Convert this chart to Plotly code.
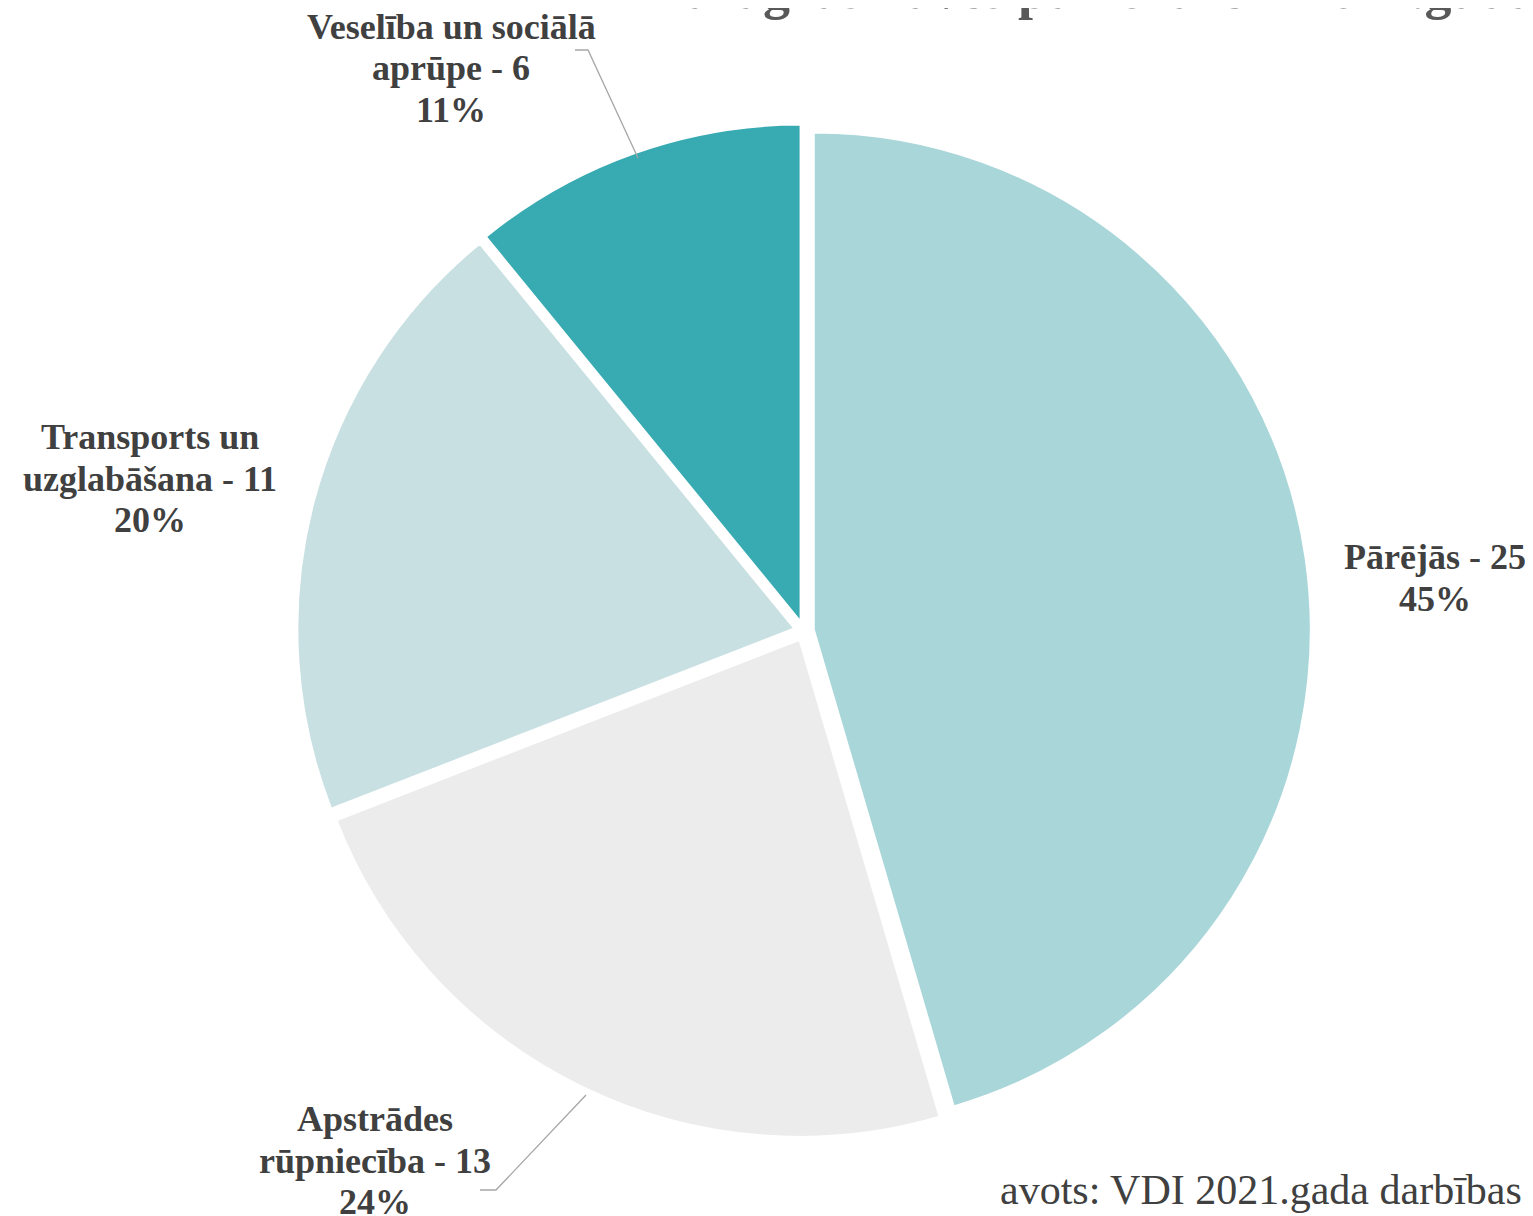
import plotly.graph_objects as go

categories = ["Pārējās", "Apstrādes rūpniecība", "Transports un uzglabāšana", "Veselība un sociālā aprūpe"]
label_lines = [["Pārējās - 25"], ["Apstrādes", "rūpniecība - 13"], ["Transports un", "uzglabāšana - 11"], ["Veselība un sociālā", "aprūpe - 6"]]
values = [25, 13, 11, 6]
colors = ["#A9D6D9", "#ECECEC", "#C9E0E3", "#37AAB2"]
title_text = "Pāragrās nāves pa nozarēm 2021.gadā"
source_text = "avots: VDI 2021.gada darbības"

W, H = 1533, 1216
total = sum(values)
pct = [round(v / total * 100) for v in values]

fig = go.Figure(go.Pie(
    labels=categories,
    values=values,
    sort=False,
    direction="clockwise",
    rotation=0,
    pull=[0.02, 0.02, 0.02, 0.02],
    marker=dict(colors=colors, line=dict(color="white", width=2)),
    textinfo="none",
    hoverinfo="label+value+percent",
    showlegend=False,
    domain=dict(x=[0.1885, 0.8499], y=[0.0708, 0.9046]),
))

font = dict(family="Liberation Serif, Times New Roman, serif", size=36, color="#404040")

# label positions in pixels: centre x, y of first line
label_pos = [(1427, 549), (367, 1111), (142, 429), (443, 19)]
line_gap = 41.5
for i, (px, py) in enumerate(label_pos):
    lines = label_lines[i] + [f"{pct[i]}%"]
    for j, ln in enumerate(lines):
        fig.add_annotation(
            x=px / W, y=1 - (py + j * line_gap) / H, xref="paper", yref="paper",
            text=f"<b>{ln}</b>",
            showarrow=False, xanchor="center", yanchor="middle",
            align="center", font=font,
        )

# leader lines
line_style = dict(color="#A6A6A6", width=1.3)
for pts in [[(472, 1182), (488, 1182), (578, 1087)], [(567, 42), (580, 42), (630, 150)]]:
    path = "M " + " L ".join(f"{x / W:.5f},{1 - y / H:.5f}" for x, y in pts)
    fig.add_shape(type="path", path=path, xref="paper", yref="paper", line=line_style)

# clipped title (only its lower part lies inside the page, as in the reference)
fig.add_annotation(
    x=642 / W, y=1 - 14 / H, xref="paper", yref="paper",
    text=f"<b>{title_text}</b>", showarrow=False,
    xanchor="left", yanchor="bottom",
    font=dict(family="Liberation Serif, Times New Roman, serif", size=54, color="#595959"),
)

# source
fig.add_annotation(
    x=990 / W, y=1 - 1182 / H, xref="paper", yref="paper",
    text=source_text, showarrow=False, xanchor="left", yanchor="middle",
    font=dict(family="Liberation Serif, Times New Roman, serif", size=42, color="#404040"),
)

fig.update_layout(
    width=W, height=H,
    margin=dict(l=0, r=0, t=0, b=0),
    paper_bgcolor="white", plot_bgcolor="white",
)

fig.write_html("out.html")
